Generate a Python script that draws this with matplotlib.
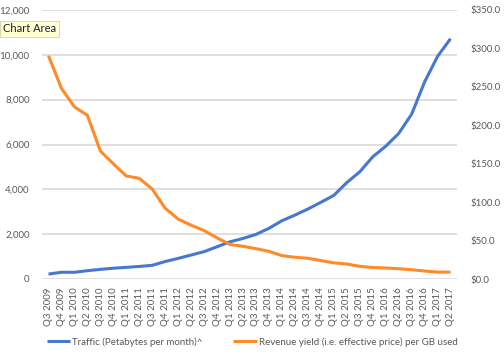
import matplotlib.pyplot as plt
from matplotlib.ticker import FuncFormatter

plt.rcParams['font.family'] = ['Lato', 'DejaVu Sans']

quarters = ['Q3 2009', 'Q4 2009',
            'Q1 2010', 'Q2 2010', 'Q3 2010', 'Q4 2010',
            'Q1 2011', 'Q2 2011', 'Q3 2011', 'Q4 2011',
            'Q1 2012', 'Q2 2012', 'Q3 2012', 'Q4 2012',
            'Q1 2013', 'Q2 2013', 'Q3 2013', 'Q4 2013',
            'Q1 2014', 'Q2 2014', 'Q3 2014', 'Q4 2014',
            'Q1 2015', 'Q2 2015', 'Q3 2015', 'Q4 2015',
            'Q1 2016', 'Q2 2016', 'Q3 2016', 'Q4 2016',
            'Q1 2017', 'Q2 2017']

# traffic, petabytes per month (left axis)
traffic = [220, 300, 300, 370, 430, 480, 520, 560, 610, 780,
           920, 1070, 1220, 1440, 1660, 1810, 1990, 2260, 2600, 2850,
           3120, 3420, 3730, 4300, 4780, 5450, 5920, 6490, 7350, 8790,
           9930, 10720]

# revenue yield per GB, $ (right axis)
revenue = [290.5, 248, 224, 213, 166.5, 150, 134, 131, 117, 92,
           78, 70, 63, 53.5, 44.8, 42.6, 39.5, 36, 30.4, 28.3,
           27, 24, 21, 19.5, 16.5, 15, 14.3, 13.4, 12, 10.4,
           9, 9]

blue = '#4677D1'
orange = '#FF8A28'
grey = '#595959'

fig = plt.figure(figsize=(5.04, 3.56), dpi=100)
ax = fig.add_axes([42/504, 1-279/356, 415/504, 269/356])
ax2 = ax.twinx()

x = list(range(len(quarters)))
ax.plot(x, traffic, color=blue, lw=2.2, solid_capstyle='butt',
        label='Traffic (Petabytes per month)^')
ax2.plot(x, revenue, color=orange, lw=2.2, solid_capstyle='butt',
         label='Revenue yield (i.e. effective price) per GB used')

ax.set_xlim(-0.5, len(quarters) - 0.5)
ax.set_ylim(0, 12000)
ax.set_yticks(range(0, 12001, 2000))
ax.yaxis.set_major_formatter(FuncFormatter(lambda v, p: f'{int(v):,}'))
ax2.set_ylim(0, 350)
ax2.set_yticks(range(0, 351, 50))
ax2.yaxis.set_major_formatter(FuncFormatter(lambda v, p: f'${v:.1f}'))

ax.grid(axis='y', color='#d9d9d9', lw=1.2)
ax.set_axisbelow(True)
ax.set_xticks(x)
ax.set_xticklabels(quarters, rotation=90)

for a in (ax, ax2):
    for s in a.spines.values():
        s.set_visible(False)
    a.tick_params(length=0, labelsize=7, labelcolor=grey)
ax.tick_params(axis='y', pad=9)
ax.tick_params(axis='x', pad=6)
ax2.tick_params(axis='y', pad=10)

h1, l1 = ax.get_legend_handles_labels()
h2, l2 = ax2.get_legend_handles_labels()
fig.legend(h1 + h2, l1 + l2, loc='center', bbox_to_anchor=(0.5, 1-342/356),
           ncol=2, frameon=False, fontsize=7, labelcolor=grey,
           handlelength=2.4, handletextpad=0.2, columnspacing=3.2)

# tooltip visible in the screenshot
fig.text(3/504, 1-29/356, 'Chart Area', fontsize=8, color='#1a1a40', va='center',
         bbox=dict(boxstyle='square,pad=0.25', fc='#FFFFD0', ec='#d0d0b0', lw=0.6))

fig.savefig('out.png', dpi=100)
